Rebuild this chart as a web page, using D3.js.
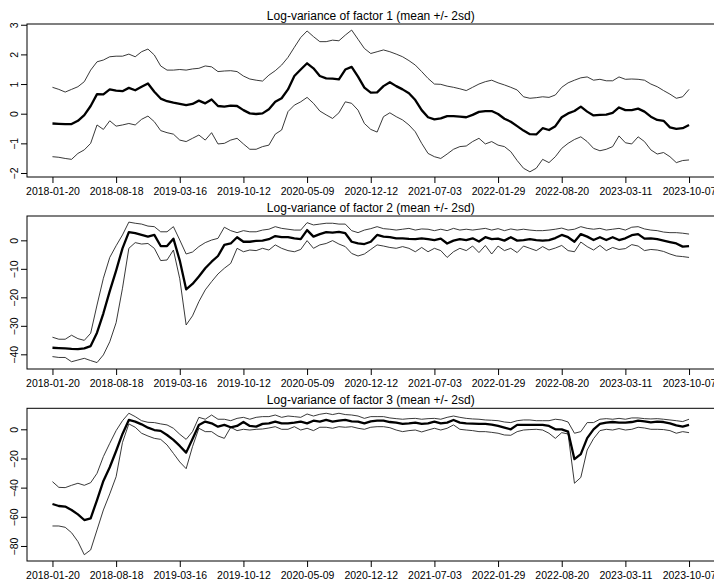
<!DOCTYPE html>
<html>
<head>
<meta charset="utf-8">
<script src="https://cdn.jsdelivr.net/npm/d3@7"></script>
<style>
  body { margin: 0; background: #fff; }
  svg { display: block; }
  .tick text { font-family: "Liberation Sans", Arial, sans-serif; font-size: 10.5px; fill: #000; }
  .title { font-family: "Liberation Sans", Arial, sans-serif; font-size: 12px; fill: #000; }
</style>
</head>
<body>
<svg id="chart" width="714" height="582"></svg>
<script>
// observation index of each sampled point (every 3rd week, 0..300)
const obs = d3.range(0, 301, 3);

// x tick positions (observation index) and their dates
const tickObs = [0, 30, 60, 90, 120, 150, 180, 210, 240, 270, 300];
const tickLabels = ["2018-01-20", "2018-08-18", "2019-03-16", "2019-10-12", "2020-05-09",
  "2020-12-12", "2021-07-03", "2022-01-29", "2022-08-20", "2023-03-11", "2023-10-07"];

// factor 1
const f1Mean = [
  -0.33,-0.34,-0.35,-0.35,-0.24,-0.05,0.26,0.66,0.65,0.82,
  0.78,0.76,0.87,0.79,0.91,1.02,0.74,0.51,0.42,0.37,
  0.33,0.29,0.33,0.44,0.35,0.48,0.26,0.24,0.27,0.26,
  0.12,0.01,-0.01,0.01,0.15,0.40,0.52,0.82,1.27,1.49,
  1.70,1.53,1.27,1.19,1.18,1.16,1.49,1.58,1.25,0.88,
  0.71,0.72,0.93,1.06,0.93,0.82,0.69,0.46,0.12,-0.12,
  -0.19,-0.16,-0.08,-0.08,-0.10,-0.12,-0.04,0.06,0.09,0.09,
  -0.01,-0.17,-0.27,-0.42,-0.57,-0.69,-0.70,-0.49,-0.55,-0.42,
  -0.12,0.01,0.09,0.24,0.07,-0.06,-0.04,-0.03,0.03,0.21,
  0.12,0.12,0.17,0.07,-0.10,-0.21,-0.24,-0.46,-0.51,-0.49,
  -0.38];
const f1Upper = [
  0.89,0.82,0.73,0.82,0.91,1.08,1.47,1.75,1.81,1.92,
  1.94,1.94,2.01,1.92,2.09,2.18,1.98,1.61,1.47,1.47,
  1.49,1.47,1.51,1.53,1.61,1.58,1.42,1.44,1.45,1.42,
  1.27,1.17,1.13,1.10,1.30,1.45,1.64,1.90,2.24,2.57,
  2.79,2.60,2.43,2.43,2.48,2.46,2.65,2.82,2.51,2.20,
  2.03,2.09,2.15,2.09,2.01,1.92,1.79,1.64,1.42,1.19,
  1.00,0.99,0.93,0.89,0.84,0.78,0.89,1.00,1.08,1.13,
  1.04,0.97,0.89,0.80,0.57,0.52,0.54,0.57,0.55,0.63,
  0.89,1.04,1.13,1.21,1.24,1.13,1.16,1.11,1.11,1.24,
  1.16,1.17,1.16,1.13,1.00,0.91,0.78,0.66,0.52,0.57,
  0.82];
const f1Lower = [
  -1.45,-1.47,-1.51,-1.54,-1.34,-1.22,-1.00,-0.38,-0.53,-0.24,
  -0.42,-0.38,-0.33,-0.38,-0.19,-0.08,-0.27,-0.57,-0.64,-0.69,
  -0.89,-0.94,-0.83,-0.72,-0.89,-0.64,-1.02,-1.00,-0.89,-0.83,
  -1.02,-1.20,-1.20,-1.11,-1.06,-0.69,-0.55,0.07,0.29,0.40,
  0.55,0.35,0.09,-0.04,-0.16,0.03,0.40,0.35,0.12,-0.33,
  -0.53,-0.62,-0.10,0.03,-0.10,-0.21,-0.38,-0.61,-1.00,-1.34,
  -1.45,-1.51,-1.36,-1.20,-1.11,-1.09,-0.94,-0.83,-1.02,-0.94,
  -1.06,-1.11,-1.28,-1.58,-1.84,-1.96,-1.84,-1.54,-1.65,-1.45,
  -1.17,-1.00,-0.87,-0.78,-0.94,-1.17,-1.25,-1.20,-1.11,-0.75,
  -0.98,-1.02,-0.78,-0.94,-1.22,-1.36,-1.31,-1.45,-1.65,-1.58,
  -1.56];

// factor 2
const f2Mean = [
  -37.7,-37.8,-37.9,-38.1,-38.2,-37.9,-37.1,-32.4,-25.6,-17.8,
  -10.6,-2.8,2.9,2.5,1.9,1.3,1.9,-2.0,-2.0,0.6,
  -7.1,-17.2,-15.3,-12.7,-9.8,-7.5,-5.5,-1.6,-1.1,1.1,
  -0.5,-0.5,-0.2,-0.1,0.4,1.5,1.1,1.1,0.7,0.4,
  3.6,1.3,2.2,2.9,2.7,3.0,2.5,-0.5,-1.1,-1.3,
  -0.5,1.9,1.3,1.1,0.7,0.7,0.5,0.4,0.7,0.4,
  0.1,0.6,-1.1,-0.1,0.4,0.1,0.7,-0.4,1.1,0.4,
  0.6,-0.1,1.1,-0.1,0.1,0.4,0.1,-0.1,0.1,0.8,
  1.9,1.1,-0.5,2.2,1.3,0.1,1.1,0.1,1.1,0.1,
  0.7,1.8,2.2,0.6,0.7,0.4,-0.1,-0.6,-1.1,-2.2,
  -2.0];
const f2Upper = [
  -34.0,-34.7,-34.7,-33.3,-34.5,-35.1,-32.6,-22.7,-13.3,-6.0,
  -1.9,1.9,6.4,6.0,5.7,5.0,4.8,3.0,3.0,4.8,
  0.1,-4.8,-4.1,-2.2,-0.8,0.1,0.7,4.6,3.4,2.7,
  3.4,3.0,3.0,3.6,3.9,4.8,4.2,3.9,3.6,3.6,
  6.2,5.4,5.7,6.0,6.0,5.7,5.7,3.4,2.7,3.6,
  4.1,4.8,4.1,3.9,3.6,3.9,4.2,3.6,4.0,3.9,
  3.4,3.9,3.4,4.2,3.6,3.9,3.6,3.9,4.2,3.6,
  4.1,3.4,4.0,3.6,3.9,3.6,3.4,3.4,3.6,3.9,
  4.3,3.6,3.9,4.8,4.2,3.9,4.2,3.6,3.9,4.2,
  3.6,4.6,4.8,4.0,3.6,3.4,2.9,2.7,2.7,2.5,
  2.2];
const f2Lower = [
  -40.8,-41.1,-41.1,-42.6,-42.0,-41.4,-42.2,-42.9,-40.2,-35.6,
  -28.9,-16.8,-2.8,-0.8,-1.3,-1.1,-2.8,-7.1,-6.9,-3.4,
  -13.5,-29.7,-26.5,-21.5,-17.4,-14.5,-11.8,-9.8,-8.1,-2.8,
  -4.0,-3.4,-3.6,-2.8,-3.4,-1.6,-2.8,-3.6,-4.0,-3.2,
  -0.1,-2.8,-1.6,-1.1,-0.1,-1.3,-2.2,-4.6,-5.5,-4.8,
  -3.2,-1.6,-2.0,-2.5,-2.8,-2.2,-2.8,-4.0,-2.5,-4.0,
  -2.8,-3.6,-6.0,-4.0,-2.8,-3.6,-2.0,-4.3,-1.8,-4.8,
  -2.0,-3.6,-2.8,-4.3,-2.0,-2.8,-3.6,-2.2,-3.4,-2.7,
  -1.8,-3.6,-4.0,-0.6,-2.2,-3.4,-1.8,-3.6,-2.5,-3.2,
  -2.9,-1.5,-2.0,-3.6,-3.2,-3.4,-3.9,-4.8,-5.5,-5.7,
  -6.0];

// factor 3
const f3Mean = [
  -51.2,-52.6,-53.0,-55.3,-58.3,-62.2,-61.0,-48.5,-35.4,-26.0,
  -14.9,-3.2,6.4,5.3,3.4,1.1,-0.5,-1.1,-3.9,-7.3,
  -11.4,-16.0,-6.6,3.0,5.3,4.1,1.8,3.0,1.4,2.3,
  5.0,2.3,1.8,3.7,4.1,5.3,4.1,4.1,4.6,5.3,
  4.1,5.9,5.3,6.4,5.3,5.9,6.4,5.5,5.3,4.1,
  5.5,5.9,5.9,5.0,4.6,3.7,4.1,4.6,3.7,4.1,
  5.3,4.1,4.6,6.4,4.6,4.1,3.9,3.7,3.7,3.2,
  2.3,1.1,0.0,3.0,3.0,3.0,3.0,3.0,2.3,0.0,
  0.0,-1.6,-20.5,-17.0,-6.0,0.0,3.7,4.6,5.0,4.6,
  4.6,5.0,5.9,5.5,4.8,5.3,5.0,4.1,2.7,1.8,
  3.0];
const f3Upper = [
  -35.9,-39.8,-40.0,-38.4,-37.0,-38.4,-36.6,-30.2,-18.7,-9.6,
  -0.9,5.9,11.0,8.7,5.9,4.8,4.6,3.7,3.0,0.7,
  -3.4,-6.9,-1.6,8.2,6.9,9.8,6.9,6.9,5.9,7.5,
  8.2,6.9,8.2,8.7,8.7,9.8,8.2,9.1,8.7,8.2,
  10.5,9.1,10.3,11.0,10.1,11.0,10.1,9.8,9.1,7.5,
  8.7,8.7,8.7,7.8,7.3,6.9,7.3,7.5,6.9,7.3,
  7.5,6.9,8.2,9.1,8.2,7.5,7.1,6.9,6.4,6.2,
  5.9,5.0,4.6,5.9,6.4,6.4,5.9,5.9,5.9,6.9,
  6.4,5.0,-2.7,-1.6,4.6,4.6,6.9,7.3,6.9,7.5,
  6.9,7.8,7.8,7.3,7.1,7.3,6.9,6.4,5.9,5.3,
  6.9];
const f3Lower = [
  -66.3,-66.3,-67.2,-70.9,-77.0,-86.0,-82.7,-69.0,-55.3,-44.3,
  -32.5,-9.0,3.7,1.4,-2.7,-4.6,-6.2,-6.9,-10.7,-16.5,
  -22.4,-27.0,-11.9,0.7,-1.6,-1.6,-4.6,-6.2,1.4,-0.9,
  0.0,-0.5,0.0,0.2,0.9,1.8,0.0,0.0,1.8,-0.5,
  0.7,-0.9,1.4,1.4,0.7,1.8,1.4,1.8,0.7,0.0,
  1.4,1.8,1.8,1.1,-0.5,-1.6,-0.9,-0.5,-1.8,-0.5,
  0.7,-0.5,0.7,3.0,0.0,-0.5,-0.9,-1.6,-1.6,-2.1,
  -2.7,-3.9,-4.1,-1.6,-0.5,-0.2,0.0,-0.5,-2.7,-6.2,
  -2.3,-3.2,-37.0,-33.0,-14.2,-6.4,-0.9,0.0,-0.5,0.5,
  -0.5,0.0,1.4,0.9,0.0,0.0,-0.2,-0.9,-2.7,-1.6,
  -2.3];

const panels = [
  { title: "Log-variance of factor 1 (mean +/- 2sd)", top: 24, bottom: 177,
    yDomain: [-2.135, 3.025], yTicks: [-2, -1, 0, 1, 2, 3], mean: f1Mean, upper: f1Upper, lower: f1Lower },
  { title: "Log-variance of factor 2 (mean +/- 2sd)", top: 216, bottom: 369,
    yDomain: [-45.15, 8.54], yTicks: [-40, -30, -20, -10, 0], mean: f2Mean, upper: f2Upper, lower: f2Lower },
  { title: "Log-variance of factor 3 (mean +/- 2sd)", top: 408.3, bottom: 561,
    yDomain: [-90.3, 14.4], yTicks: [-80, -60, -40, -20, 0], mean: f3Mean, upper: f3Upper, lower: f3Lower }
];

const svg = d3.select("#chart");
const left = 27, right = 714.5;

// R pads the x range by 4% on each side
const x = d3.scaleLinear().domain([-12, 312]).range([left, right]);

panels.forEach(p => {
  const y = d3.scaleLinear().domain(p.yDomain).range([p.bottom, p.top]);
  const g = svg.append("g");

  const line = d3.line()
    .x((d, i) => x(obs[i]))
    .y(d => y(d));

  // bands first, mean on top
  [p.upper, p.lower].forEach(s => {
    g.append("path")
      .datum(s)
      .attr("d", line)
      .attr("fill", "none")
      .attr("stroke", "#222")
      .attr("stroke-width", 0.9)
      .attr("stroke-linejoin", "round");
  });

  g.append("path")
    .datum(p.mean)
    .attr("d", line)
    .attr("fill", "none")
    .attr("stroke", "#000")
    .attr("stroke-width", 2.3)
    .attr("stroke-linejoin", "round");

  // box
  g.append("rect")
    .attr("x", left)
    .attr("y", p.top)
    .attr("width", right - left)
    .attr("height", p.bottom - p.top)
    .attr("fill", "none")
    .attr("stroke", "#000")
    .attr("stroke-width", 1);

  // x axis
  const xa = g.append("g")
    .attr("transform", "translate(0," + p.bottom + ")")
    .call(d3.axisBottom(x).tickValues(tickObs)
      .tickFormat((d, i) => tickLabels[i])
      .tickSize(6).tickSizeOuter(0));
  xa.select(".domain").remove();
  xa.selectAll(".tick line").attr("stroke", "#000");
  xa.selectAll(".tick text").attr("y", 18).attr("dy", 0);

  // y axis, labels parallel to the axis
  const ya = g.append("g")
    .attr("transform", "translate(" + left + ",0)")
    .call(d3.axisLeft(y).tickValues(p.yTicks).tickFormat(d3.format("d"))
      .tickSize(6).tickSizeOuter(0));
  ya.select(".domain").remove();
  ya.selectAll(".tick line").attr("stroke", "#000");
  ya.selectAll(".tick text")
    .attr("transform", "rotate(-90)")
    .attr("x", 0)
    .attr("y", -9)
    .attr("dy", 0)
    .attr("text-anchor", "middle");

  // title
  g.append("text")
    .attr("class", "title")
    .attr("x", (left + right) / 2)
    .attr("y", p.top - 4.5)
    .attr("text-anchor", "middle")
    .text(p.title);
});
</script>
</body>
</html>
